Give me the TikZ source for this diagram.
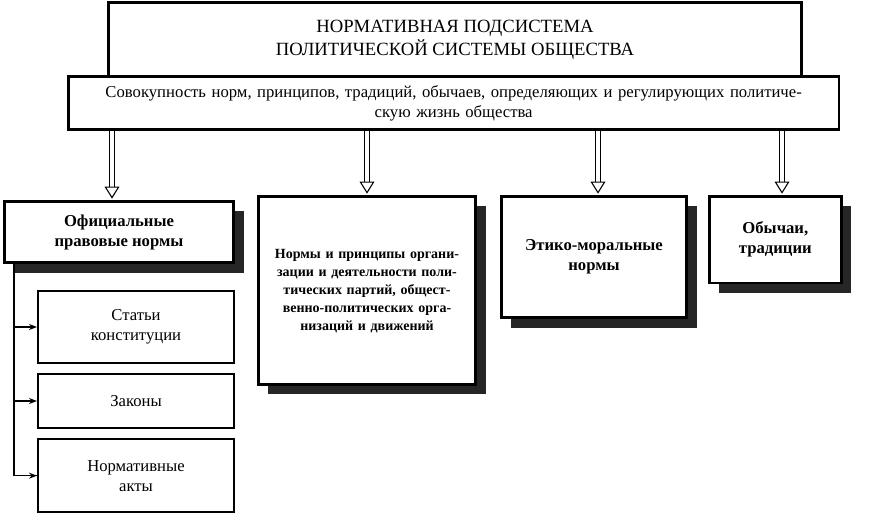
\documentclass[tikz,border=0pt]{standalone}
\usepackage{fontspec}
\setmainfont{Liberation Serif}
\usetikzlibrary{positioning, shadows, arrows.meta}
\begin{document}
\begin{tikzpicture}[x=0.75pt, y=-0.75pt, align=center, font=\fontsize{12.5}{15}\selectfont]

\tikzstyle{mainbox} = [rectangle, draw=black, line width=2pt, fill=white, inner sep=2pt]
\tikzstyle{shadowbox} = [rectangle, draw=black, line width=2pt, fill=white, font=\fontsize{12.5}{15}\selectfont\bfseries, drop shadow={shadow xshift=7.5pt, shadow yshift=-7.5pt, opacity=1, fill=black!85}]
\tikzstyle{subbox} = [rectangle, draw=black, line width=1.5pt, fill=white, minimum width=147pt]
\tikzstyle{bigarrow} = [draw=black, line width=0.8pt, double=white, double distance=3pt, -{Triangle[open, length=9pt, width=11pt]}, shorten >=1pt]
\tikzstyle{arrow} = [line width=1pt, -{Stealth[length=6pt]}]

\useasboundingbox (0,0) rectangle (884,512);

\node (title) [mainbox, minimum width=520pt, minimum height=56pt, anchor=north west, font=\fontsize{14}{17}\selectfont] at (107,1)
  {НОРМАТИВНАЯ ПОДСИСТЕМА\\ПОЛИТИЧЕСКОЙ СИСТЕМЫ ОБЩЕСТВА};
\node (def) [mainbox, minimum width=578pt, minimum height=40pt, anchor=north west, text width=565pt] at (67,75)
  {Совокупность норм, принципов, традиций, обычаев, определяющих и регулирующих политиче-\\скую жизнь общества};

\node (official) [shadowbox, minimum width=172pt, minimum height=46pt, anchor=north west] at (3,200)
  {Официальные\\правовые нормы};
\node (parties) [shadowbox, minimum width=163pt, minimum height=141pt, anchor=north west, inner sep=1pt, text width=160pt, text depth=55pt, font=\fontsize{10.5}{13.5}\selectfont\bfseries] at (257,195)
  {Нормы и принципы органи-\\зации и деятельности поли-\\тических партий, общест-\\венно-политических орга-\\низаций и движений};
\node (moral) [shadowbox, minimum width=139pt, minimum height=91pt, anchor=north west] at (500,195)
  {Этико-моральные\\нормы};
\node (customs) [shadowbox, minimum width=99pt, minimum height=65pt, anchor=north west] at (708,195)
  {Обычаи,\\традиции};

\node (articles) [subbox, minimum height=54pt, anchor=north west] at (37,290) {Статьи\\конституции};
\node (laws) [subbox, minimum height=40pt, below=7pt of articles] {Законы};
\node (acts) [subbox, minimum height=55pt, below=7pt of laws] {Нормативные\\акты};

\coordinate (trunk) at (14,262);

\draw [bigarrow] (def.south -| 112,0) -- (official.north -| 112,0);
\draw [bigarrow] (def.south -| 367,0) -- (parties.north -| 367,0);
\draw [bigarrow] (def.south -| 598,0) -- (moral.north -| 598,0);
\draw [bigarrow] (def.south -| 782,0) -- (customs.north -| 782,0);

\draw [line width=1pt] (trunk) |- (acts.west);
\draw [arrow] (trunk |- articles.west) -- (articles.west);
\draw [arrow] (trunk |- laws.west) -- (laws.west);
\draw [arrow] (trunk |- acts.west) -- (acts.west);
\end{tikzpicture}
\end{document}
